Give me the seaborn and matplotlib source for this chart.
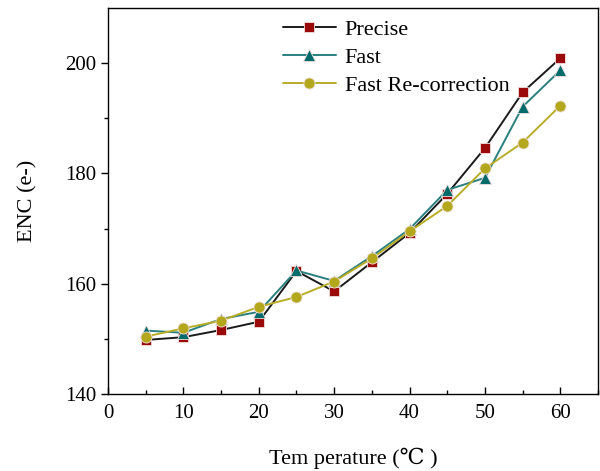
import matplotlib
matplotlib.use("Agg")
import matplotlib.pyplot as plt
import seaborn as sns
import pandas as pd
from matplotlib.ticker import MultipleLocator, FixedLocator

temperature = [5, 10, 15, 20, 25, 30, 35, 40, 45, 50, 55, 60]
precise = [149.8, 150.3, 151.6, 153.1, 162.3, 158.6, 163.9, 169.2, 176.3, 184.6, 194.7, 200.9]
fast = [151.5, 151.1, 153.6, 154.9, 162.4, 160.5, 165.0, 169.9, 177.0, 179.2, 192.1, 198.7]
fast_recorr = [150.4, 151.9, 153.3, 155.8, 157.6, 160.4, 164.6, 169.5, 174.1, 180.9, 185.6, 192.3]
series_names = ["Precise", "Fast", "Fast Re-correction"]

sns.set_style("ticks")
serif = ["Liberation Serif", "DejaVu Serif", "Noto Sans CJK SC"]
plt.rcParams["font.family"] = serif
plt.rcParams["text.color"] = "black"
plt.rcParams["axes.labelcolor"] = "black"
plt.rcParams["xtick.color"] = "black"
plt.rcParams["ytick.color"] = "black"

df = pd.DataFrame({
    "T": temperature * 3,
    "ENC": precise + fast + fast_recorr,
    "series": sum([[n] * len(temperature) for n in series_names], []),
})

fig = plt.figure(figsize=(6.0, 4.71), dpi=100)
ax = fig.add_axes([0.18, 0.1635, 0.8167, 0.8195])

styles = {
    "Precise": dict(color="#1a1a1a", marker="s", markerfacecolor="#9b0a0a", markersize=6.8),
    "Fast": dict(color="#2a7f7f", marker="^", markerfacecolor="#006b6b", markersize=8.7),
    "Fast Re-correction": dict(color="#b8ad28", marker="o", markerfacecolor="#b3a81c", markersize=8.0),
}
for name in series_names:
    sub = df[df["series"] == name]
    st = styles[name]
    sns.lineplot(data=sub, x="T", y="ENC", ax=ax, label=name, linewidth=1.4,
                 color=st["color"], marker=st["marker"], markerfacecolor=st["markerfacecolor"],
                 markeredgecolor="#f2dede", markeredgewidth=0.6, markersize=st["markersize"])

ax.set_xlim(0, 65)
ax.set_ylim(140, 210)
ax.xaxis.set_major_locator(MultipleLocator(10))
ax.xaxis.set_minor_locator(MultipleLocator(5))
ax.yaxis.set_major_locator(FixedLocator([140, 160, 180, 200]))
ax.yaxis.set_minor_locator(FixedLocator([150, 170, 190]))
ax.tick_params(axis="x", which="both", direction="in", labelsize=15, pad=7, color="black")
ax.tick_params(axis="x", which="major", length=5, width=1.0)
ax.tick_params(axis="x", which="minor", length=3, width=1.0)
ax.tick_params(axis="y", which="both", direction="out", labelsize=15, color="black")
ax.tick_params(axis="y", which="major", length=5, width=1.0)
ax.tick_params(axis="y", which="minor", length=3, width=1.0)
for s in ax.spines.values():
    s.set_linewidth(1.0)
    s.set_color("black")

ax.set_xlabel("Tem perature (℃ )", fontsize=16, labelpad=18)
ax.set_ylabel("ENC (e-)", fontsize=16, labelpad=20)

leg = ax.legend(loc="upper center", bbox_to_anchor=(0.588, 1.022), frameon=False,
                fontsize=16, handlelength=2.4, labelspacing=0.33, handletextpad=0.4)

fig.savefig("out.png", dpi=100)
